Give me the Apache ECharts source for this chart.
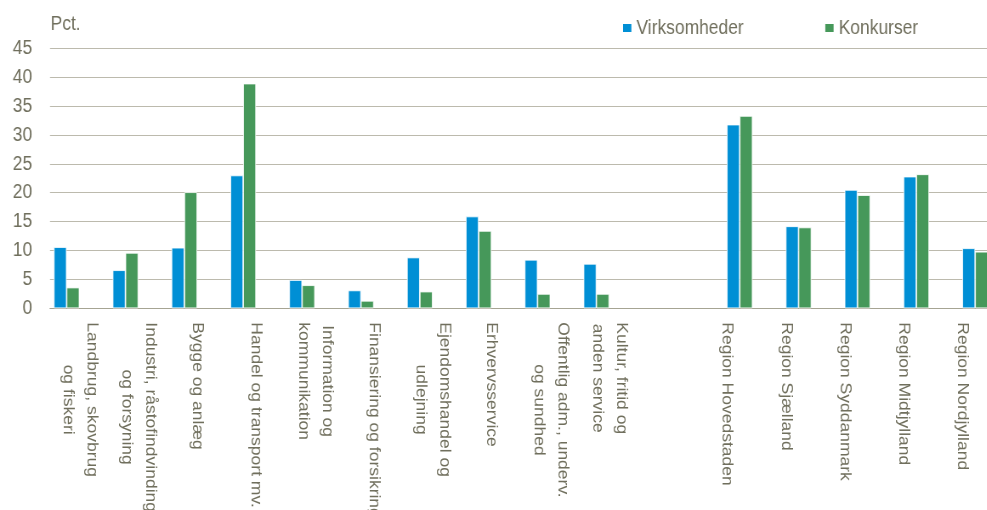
<!DOCTYPE html>
<html>
<head>
<meta charset="utf-8">
<script src="https://cdn.jsdelivr.net/npm/echarts@6/dist/echarts.min.js"></script>
<style>
html,body{margin:0;padding:0;background:#fff;overflow:hidden;}
#wrap{width:987px;height:510px;overflow:hidden;position:relative;}
#chart{width:1161px;height:510px;transform:scaleX(0.85);transform-origin:0 0;position:absolute;left:0;top:0;}
</style>
</head>
<body>
<div id="wrap"><div id="chart"></div></div>
<script>
// ---- data ----
const industries = [
  "Landbrug, skovbrug\nog fiskeri",
  "Industri, råstofindvinding\nog forsyning",
  "Bygge og anlæg",
  "Handel og transport mv.",
  "Information og\nkommunikation",
  "Finansiering og forsikring",
  "Ejendomshandel og\nudlejning",
  "Erhvervsservice",
  "Offentlig adm., underv.\nog sundhed",
  "Kultur, fritid og\nanden service"
];
const regions = [
  "Region Hovedstaden",
  "Region Sjælland",
  "Region Syddanmark",
  "Region Midtjylland",
  "Region Nordjylland"
];
const industryVirksomheder = [10.6, 6.6, 10.5, 23.0, 4.9, 3.1, 8.8, 15.9, 8.4, 7.7];
const industryKonkurser    = [3.6, 9.6, 20.1, 38.9, 4.0, 1.3, 2.9, 13.4, 2.5, 2.5];
const regionVirksomheder   = [31.8, 14.2, 20.5, 22.8, 10.4];
const regionKonkurser      = [33.3, 14.0, 19.6, 23.2, 9.8];
const yTicks = [0, 5, 10, 15, 20, 25, 30, 35, 40, 45];
const unitLabel = "Pct.";
const seriesNames = ["Virksomheder", "Konkurser"];

// ---- build ----
const categories = industries.concat([""], regions);
const gapNulls = n => new Array(n).fill(null);
const s1 = industryVirksomheder.concat(gapNulls(1 + regions.length));
const s2 = industryKonkurser.concat(gapNulls(1 + regions.length));
const s3 = gapNulls(industries.length + 1).concat(regionVirksomheder);
const s4 = gapNulls(industries.length + 1).concat(regionKonkurser);

const FONT = "'Liberation Sans', Arial, sans-serif";
const TXT = '#706f5d';
const BLUE = '#008fd5';
const GREEN = '#46985a';

function barSeries(name, data, color) {
  return {
    name: name, type: 'bar', data: data,
    barWidth: 15.06, barGap: '0%',
    itemStyle: { color: color, borderColor: '#ffffff', borderWidth: 0.8 },
    emphasis: { disabled: true }
  };
}

const chart = echarts.init(document.getElementById('chart'), null, { renderer: 'canvas' });
chart.setOption({
  animation: false,
  backgroundColor: '#ffffff',
  title: {
    text: unitLabel, left: 54.5, top: 9,
    textStyle: { fontFamily: FONT, fontSize: 20.5, fontWeight: 'normal', color: TXT }
  },
  legend: {
    data: seriesNames, left: 726, top: 12.5,
    icon: 'rect', itemWidth: 11.8, itemHeight: 10, itemGap: 94,
    textStyle: { fontFamily: FONT, fontSize: 20.5, color: TXT }
  },
  grid: { left: 58.8, top: 48.3, height: 260, width: 1108, containLabel: false, outerBoundsMode: 'none' },
  xAxis: {
    type: 'category', data: categories,
    axisTick: { show: false },
    axisLine: { lineStyle: { color: '#a6a493', width: 1.2 } },
    axisLabel: {
      interval: 0, rotate: -90, margin: 14,
      formatter: v => v.split('\n').map(l => '{a|' + l + '}').join('\n'),
      rich: { a: { align: 'center', fontFamily: FONT, fontSize: 17.5, lineHeight: 28, color: TXT } }
    }
  },
  yAxis: {
    type: 'value', min: yTicks[0], max: yTicks[yTicks.length - 1], interval: 5,
    axisLine: { show: false }, axisTick: { show: false },
    splitLine: { lineStyle: { color: '#bcbaad', width: 1.2 } },
    axisLabel: { margin: 21, fontFamily: FONT, fontSize: 20.5, color: TXT }
  },
  series: [
    barSeries(seriesNames[0], s1, BLUE),
    barSeries(seriesNames[1], s2, GREEN),
    barSeries(seriesNames[0], s3, BLUE),
    barSeries(seriesNames[1], s4, GREEN)
  ]
});
</script>
</body>
</html>
